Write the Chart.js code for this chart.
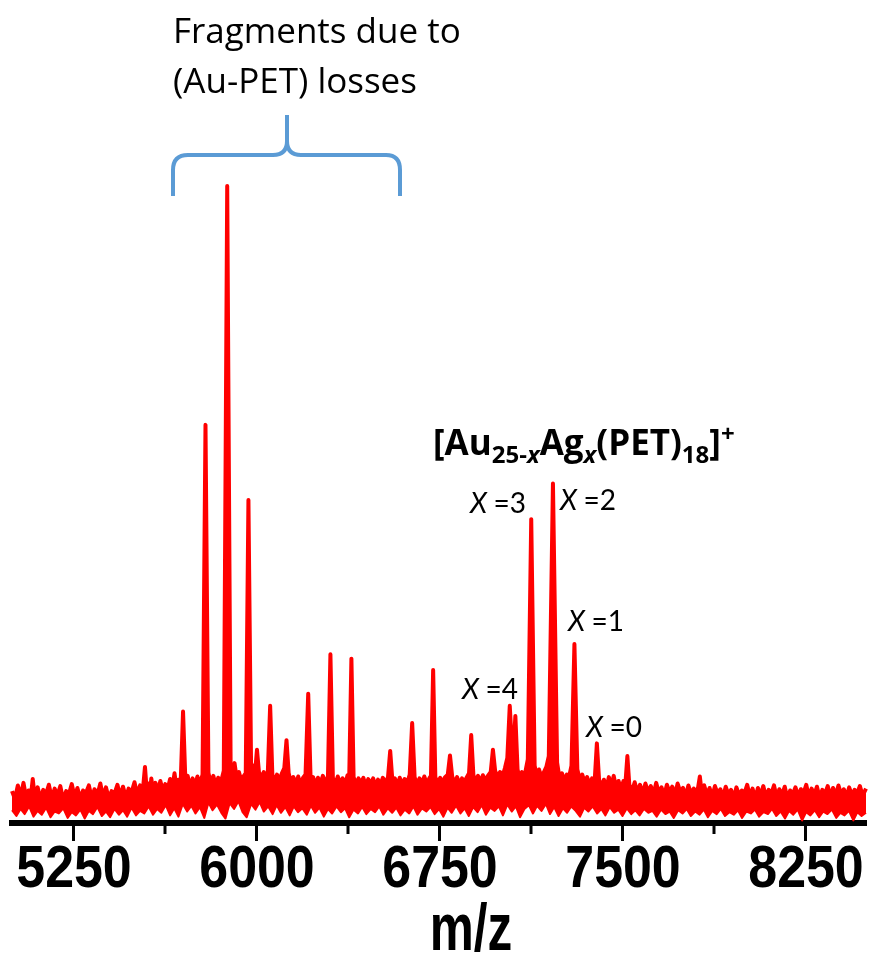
<!DOCTYPE html>
<html>
<head>
<meta charset="utf-8">
<script src="https://cdn.jsdelivr.net/npm/chart.js@4/dist/chart.umd.min.js"></script>
<style>
html,body{margin:0;padding:0;background:#fff;}
canvas{display:block;}
</style>
</head>
<body>
<canvas id="c" width="870" height="956"></canvas>
<script>
// ---- axis ----
const majorTicks = [5250, 6000, 6750, 7500, 8250];
const majorTickLabels = ["5250", "6000", "6750", "7500", "8250"];
const minorTicks = [5625, 6375, 7125, 7875];
const xTitle = "m/z";

// ---- spectrum: upper edge of the trace [m/z, relative intensity] ----
const topEdge = [
 [5000,5.0],[5012,3.8],[5024,5.9],[5036,4.2],[5047,6.3],[5058,4.0],[5068,5.1],[5078,4.4],[5085,6.9],[5093,4.1],
 [5105,5.6],[5117,3.7],[5128,5.2],[5140,4.6],[5151,6.0],[5163,3.9],[5175,5.4],[5186,4.3],[5198,5.8],[5210,3.6],
 [5222,5.0],[5233,4.5],[5245,6.1],[5257,4.0],[5268,5.5],[5280,3.8],[5291,5.1],[5303,4.7],[5315,5.9],[5327,3.9],
 [5338,5.3],[5350,4.4],[5362,6.2],[5373,4.1],[5385,5.6],[5397,3.8],[5408,5.0],[5420,4.6],[5432,6.0],[5443,4.2],
 [5455,5.7],[5467,4.0],[5478,5.4],[5490,4.8],[5502,6.4],[5513,4.5],[5525,5.9],[5536,5.0],[5545,8.8],[5552,5.1],
 [5560,6.2],[5566,4.9],[5571,7.0],[5578,5.0],[5588,6.3],[5598,4.8],[5608,6.6],[5618,5.0],[5628,6.1],[5638,5.3],
 [5648,6.9],[5657,5.4],[5666,7.8],[5674,5.6],[5683,6.8],[5691,5.9],[5701,17.5],[5711,6.2],[5720,7.4],[5730,5.6],
 [5740,7.0],[5750,5.8],[5760,7.3],[5770,6.0],[5781,7.6],[5793,62.5],[5805,7.9],[5815,6.0],[5825,7.4],[5835,5.9],
 [5845,7.1],[5855,6.2],[5868,8.2],[5882,100],[5896,9.2],[5905,7.0],[5912,9.4],[5920,7.2],[5930,8.0],[5940,6.6],
 [5950,7.4],[5958,7.8],[5969,50.7],[5980,8.4],[5990,9.0],[5997,8.2],[6004,11.5],[6012,8.0],[6022,7.0],[6032,8.0],
 [6040,6.8],[6048,7.4],[6058,18.4],[6067,7.6],[6076,6.4],[6086,7.6],[6096,6.6],[6106,7.8],[6116,8.6],[6125,13.0],
 [6134,7.8],[6143,6.4],[6153,7.2],[6163,6.1],[6173,7.3],[6183,6.0],[6193,7.1],[6203,7.6],[6214,20.3],[6224,6.6],
 [6234,7.2],[6244,5.9],[6254,7.1],[6264,6.2],[6274,7.4],[6284,6.0],[6295,7.4],[6305,26.5],[6315,7.1],[6325,6.0],
 [6335,7.3],[6345,6.2],[6355,7.0],[6365,5.9],[6375,7.5],[6382,7.0],[6391,25.8],[6400,7.2],[6410,6.1],[6420,7.0],
 [6430,6.3],[6440,7.1],[6450,5.8],[6460,6.9],[6470,6.1],[6480,7.0],[6490,5.8],[6500,6.8],[6510,6.0],[6520,7.1],
 [6530,6.2],[6541,7.2],[6550,11.3],[6559,6.6],[6569,7.0],[6579,5.9],[6589,7.1],[6599,6.0],[6609,6.9],[6619,6.2],
 [6630,7.6],[6640,15.7],[6650,7.2],[6660,6.0],[6670,7.0],[6680,6.2],[6690,7.3],[6700,6.1],[6710,7.0],[6717,7.4],
 [6726,24.0],[6735,7.2],[6745,6.2],[6755,7.1],[6765,6.3],[6775,7.2],[6786,7.6],[6795,10.6],[6804,7.3],[6814,6.2],
 [6824,7.2],[6834,6.1],[6844,7.0],[6854,6.4],[6864,7.2],[6873,7.8],[6882,13.8],[6891,7.5],[6900,6.5],[6910,7.4],
 [6920,6.4],[6930,7.5],[6940,6.6],[6950,7.4],[6962,8.0],[6971,11.5],[6980,8.2],[6990,7.2],[7000,8.0],[7010,7.3],
 [7020,8.6],[7030,10.2],[7040,18.4],[7050,11.2],[7056,12.0],[7063,16.8],[7072,8.4],[7080,7.0],[7090,8.0],[7100,7.2],
 [7107,8.6],[7114,10.0],[7128,47.7],[7142,9.0],[7150,7.4],[7160,8.4],[7170,7.2],[7180,8.0],[7190,8.8],[7200,10.5],
 [7217,53.3],[7234,9.5],[7244,7.0],[7254,7.8],[7264,6.6],[7274,7.6],[7284,7.4],[7293,9.0],[7305,28.1],[7317,8.4],
 [7327,6.8],[7337,7.6],[7347,6.4],[7357,7.2],[7367,6.0],[7377,7.0],[7388,6.6],[7397,12.5],[7406,6.8],[7416,5.6],
 [7426,6.8],[7436,5.4],[7446,7.2],[7456,5.8],[7466,7.4],[7476,5.5],[7486,6.6],[7496,5.3],[7506,6.6],[7514,6.2],
 [7522,10.5],[7530,6.0],[7541,5.0],[7552,6.4],[7563,4.8],[7574,6.0],[7585,4.6],[7596,6.2],[7607,4.9],[7618,5.8],
 [7629,4.5],[7640,6.3],[7651,4.7],[7662,5.6],[7673,4.3],[7684,6.0],[7695,4.8],[7706,5.7],[7717,4.4],[7728,6.2],
 [7739,4.9],[7750,5.5],[7761,4.2],[7772,5.9],[7783,4.6],[7794,5.4],[7805,4.8],[7812,5.6],[7819,7.3],[7826,5.0],
 [7837,5.9],[7848,4.4],[7859,5.5],[7870,4.1],[7881,5.8],[7892,4.6],[7903,5.3],[7914,4.0],[7925,5.7],[7936,4.5],
 [7947,5.2],[7958,3.9],[7969,5.6],[7980,4.4],[7991,5.1],[8002,4.7],[8013,6.0],[8024,4.2],[8035,5.4],[8046,3.9],
 [8057,5.5],[8068,4.3],[8079,5.8],[8090,4.1],[8101,5.2],[8112,4.6],[8123,5.9],[8134,4.0],[8145,5.3],[8156,4.4],
 [8167,5.7],[8178,3.8],[8189,5.1],[8200,4.5],[8211,5.6],[8222,4.2],[8233,5.3],[8244,4.7],[8255,6.0],[8266,4.1],
 [8277,5.4],[8288,4.4],[8299,5.7],[8310,4.0],[8321,5.2],[8332,4.6],[8343,5.8],[8354,4.2],[8365,5.5],[8376,4.3],
 [8387,5.9],[8398,4.5],[8409,5.3],[8420,4.1],[8431,5.6],[8442,4.4],[8453,5.2],[8464,4.7],[8475,5.8],[8486,4.3],
 [8500,5.4]
];

// ---- spectrum: lower edge of the noise band [m/z, relative intensity] ----
const bottomEdge = [
 [5000,2.0],[5018,1.1],[5035,2.2],[5052,1.4],[5070,2.6],[5088,1.0],[5105,1.9],[5122,1.3],[5140,2.4],[5158,0.9],
 [5175,1.8],[5192,1.5],[5210,2.3],[5228,0.8],[5245,1.7],[5262,1.2],[5280,2.1],[5298,0.7],[5315,1.9],[5332,1.4],
 [5350,2.5],[5368,1.1],[5385,1.8],[5402,0.9],[5420,2.2],[5438,1.3],[5455,2.0],[5472,1.0],[5490,2.4],[5508,1.2],
 [5525,1.9],[5542,1.5],[5560,2.6],[5578,1.3],[5595,2.2],[5612,1.6],[5630,2.8],[5648,1.2],[5665,2.3],[5682,1.0],
 [5700,3.0],[5718,1.8],[5735,2.7],[5752,1.5],[5770,2.5],[5788,0.8],[5805,3.2],[5822,2.0],[5840,2.9],[5858,1.6],
 [5875,0.7],[5892,3.1],[5910,2.2],[5928,3.4],[5945,1.7],[5962,0.9],[5980,3.0],[5998,2.1],[6015,3.3],[6032,1.8],
 [6050,2.6],[6068,1.4],[6085,2.8],[6102,1.6],[6120,2.5],[6138,1.2],[6155,2.6],[6172,1.7],[6190,2.3],[6208,1.3],
 [6225,2.7],[6242,1.6],[6260,2.4],[6278,1.0],[6295,2.2],[6312,1.5],[6330,2.6],[6348,1.7],[6365,2.3],[6382,0.9],
 [6400,2.1],[6418,1.5],[6435,2.5],[6452,1.4],[6470,2.2],[6488,1.7],[6505,2.6],[6522,1.3],[6540,2.3],[6558,1.6],
 [6575,2.4],[6592,1.2],[6610,2.1],[6628,1.5],[6645,2.6],[6662,1.3],[6680,2.3],[6698,1.8],[6715,2.5],[6732,1.4],
 [6750,2.2],[6768,1.0],[6785,2.4],[6802,1.6],[6820,2.7],[6838,1.5],[6855,2.3],[6872,1.1],[6890,2.5],[6908,1.7],
 [6925,2.8],[6942,1.3],[6960,2.4],[6978,1.9],[6995,2.6],[7012,1.2],[7030,2.9],[7048,1.8],[7065,2.6],[7082,0.9],
 [7100,2.2],[7118,2.8],[7135,1.5],[7152,2.7],[7170,1.9],[7188,3.0],[7205,1.4],[7222,2.5],[7240,1.1],[7258,2.3],
 [7275,1.6],[7292,2.6],[7310,1.9],[7328,1.0],[7345,2.4],[7362,1.8],[7380,2.6],[7398,1.5],[7415,2.2],[7432,1.2],
 [7450,2.5],[7468,1.6],[7485,2.1],[7502,1.1],[7520,2.3],[7538,1.4],[7555,2.0],[7572,1.2],[7590,2.2],[7608,1.6],
 [7625,1.9],[7642,1.0],[7660,2.1],[7678,1.4],[7695,1.8],[7712,0.8],[7730,2.0],[7748,1.5],[7765,2.2],[7782,1.1],
 [7800,1.8],[7818,1.3],[7835,2.1],[7852,0.9],[7870,1.9],[7888,1.4],[7905,2.2],[7922,1.1],[7940,1.7],[7958,1.3],
 [7975,2.0],[7992,0.8],[8010,1.8],[8028,1.5],[8045,2.1],[8062,1.0],[8080,1.7],[8098,1.4],[8115,2.2],[8132,1.1],
 [8150,1.8],[8168,0.7],[8185,1.9],[8202,1.3],[8220,2.1],[8238,0.4],[8255,1.7],[8272,1.2],[8290,2.0],[8308,0.9],
 [8325,1.8],[8342,1.4],[8360,2.1],[8378,0.8],[8395,1.6],[8412,1.2],[8430,1.9],[8448,0.4],[8465,1.7],[8482,1.1],
 [8500,1.6]
];

// ---- annotation texts ----
const fragmentNote = ["Fragments due to", "(Au-PET) losses"];
const speciesX = ["=4", "=3", "=2", "=1", "=0"];
const formulaParts = [
  ["[Au", "main"], ["25-", "sub"], ["x", "subi"], ["Ag", "main"], ["x", "subi"],
  ["(PET)", "main"], ["18", "sub"], ["]", "main"], ["+", "sup"]
];

const NOTE_FONT = "'Open Sans', 'Noto Sans', Lato, sans-serif";
const LBL_FONT = "Lato, 'Open Sans', 'Noto Sans', sans-serif";
const AXIS_FONT = "'Liberation Sans', Arial, 'DejaVu Sans', sans-serif";

const annotations = {
  id: 'annotations',
  afterDraw(chart) {
    const c = chart.ctx;
    const xs = chart.scales.x;
    c.save();
    // minor ticks
    c.strokeStyle = '#000';
    c.lineWidth = 3;
    minorTicks.forEach(v => {
      const px = Math.round(xs.getPixelForValue(v));
      c.beginPath(); c.moveTo(px, xs.top); c.lineTo(px, xs.top + 11); c.stroke();
    });

    // tick labels (condensed bold)
    c.fillStyle = '#000';
    c.textAlign = 'center';
    c.textBaseline = 'alphabetic';
    c.font = "bold 60px " + AXIS_FONT;
    majorTicks.forEach((v, i) => {
      const px = xs.getPixelForValue(v);
      c.save();
      c.translate(px + 1, 887);
      c.scale(0.865, 1);
      c.fillText(majorTickLabels[i], 0, 0);
      c.restore();
    });

    // axis title
    c.font = "bold 66px " + AXIS_FONT;
    c.save();
    c.translate(471, 950);
    c.scale(0.75, 1);
    c.fillText(xTitle, 0, 0);
    c.restore();

    // fragment note
    c.textAlign = 'left';
    c.font = "35px " + NOTE_FONT;
    c.fillText(fragmentNote[0], 173, 43);
    c.fillText(fragmentNote[1], 173, 93);

    // brace
    c.strokeStyle = '#5B9BD5';
    c.lineWidth = 4;
    c.lineCap = 'butt';
    c.lineJoin = 'round';
    c.beginPath();
    c.moveTo(173, 196); c.lineTo(173, 170);
    c.quadraticCurveTo(173, 155, 188, 155);
    c.lineTo(273, 155);
    c.quadraticCurveTo(287, 155, 287, 141);
    c.lineTo(287, 115);
    c.moveTo(287, 141);
    c.quadraticCurveTo(287, 155, 301, 155);
    c.lineTo(386, 155);
    c.quadraticCurveTo(400, 155, 400, 170);
    c.lineTo(400, 196);
    c.stroke();

    // formula
    let fx = 433;
    formulaParts.forEach(([t, kind]) => {
      let y = 455;
      if (kind === 'main') c.font = "bold 35px " + NOTE_FONT;
      else if (kind === 'sub') { c.font = "bold 24px " + NOTE_FONT; y = 463; }
      else if (kind === 'subi') { c.font = "italic bold 24px " + NOTE_FONT; y = 463; }
      else { c.font = "bold 24px " + NOTE_FONT; y = 442; }
      c.fillText(t, fx, y);
      fx += c.measureText(t).width;
    });

    // X = n labels
    const pos = [[462, 699], [470, 513], [560, 510], [568, 631], [586, 737]];
    speciesX.forEach((s, i) => {
      const [lx, ly] = pos[i];
      c.font = "italic 28px " + LBL_FONT;
      c.fillText("X", lx, ly);
      const w = c.measureText("X ").width;
      c.font = "28px " + LBL_FONT;
      c.fillText(s, lx + w, ly);
    });
    c.restore();
  }
};

new Chart(document.getElementById('c').getContext('2d'), {
  type: 'line',
  data: {
    datasets: [
      {
        data: topEdge.map(p => ({x: p[0], y: p[1]})),
        borderColor: '#ff0000', backgroundColor: '#ff0000',
        borderWidth: 4, pointRadius: 0, fill: '+1', tension: 0,
        borderJoinStyle: 'round', clip: false
      },
      {
        data: bottomEdge.map(p => ({x: p[0], y: p[1]})),
        borderColor: '#ff0000', backgroundColor: '#ff0000',
        borderWidth: 2, pointRadius: 0, fill: false, tension: 0,
        borderJoinStyle: 'round', clip: false
      }
    ]
  },
  options: {
    responsive: false,
    animation: false,
    devicePixelRatio: 1,
    layout: { padding: { left: 12, right: 4, top: 186, bottom: 0 } },
    plugins: { legend: { display: false }, tooltip: { enabled: false } },
    scales: {
      x: {
        type: 'linear', min: 5000, max: 8500, position: 'bottom',
        afterBuildTicks: s => { s.ticks = majorTicks.map(v => ({ value: v })); },
        afterFit: s => { s.height = 133; },
        grid: { display: true, drawOnChartArea: false, drawTicks: true, tickLength: 18, tickWidth: 3, tickColor: '#000' },
        border: { display: true, color: '#000', width: 6 },
        ticks: { display: false, autoSkip: false, maxRotation: 0, minRotation: 0 }
      },
      y: { type: 'linear', display: false, min: 0, max: 100 }
    }
  },
  plugins: [annotations]
});
</script>
</body>
</html>
